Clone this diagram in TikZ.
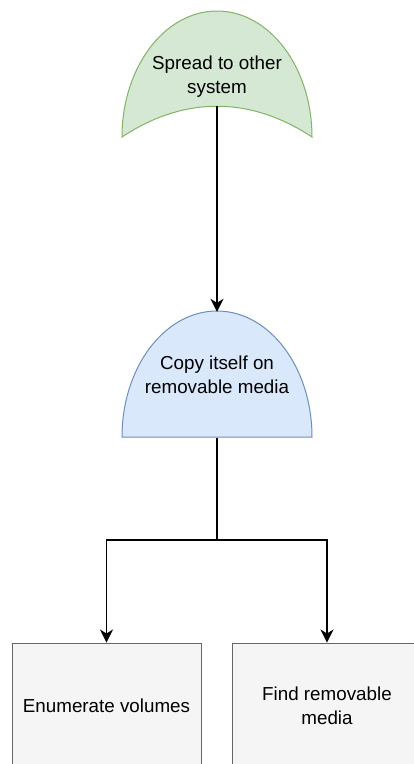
\documentclass[tikz,border=0pt]{standalone}
\usepackage{fontspec}
\setmainfont{Liberation Sans}
\usetikzlibrary{arrows.meta}
\definecolor{greenfill}{HTML}{D5E8D4}
\definecolor{greenline}{HTML}{82B366}
\definecolor{bluefill}{HTML}{DAE8FC}
\definecolor{blueline}{HTML}{6C8EBF}
\definecolor{greyfill}{HTML}{F5F5F5}
\definecolor{greyline}{HTML}{666666}
\begin{document}
\begin{tikzpicture}[x=1pt,y=-1pt,
  lbl/.style={font=\fontsize{18.8}{24.5}\selectfont, align=center, text=black},
  frame/.style={lbl, minimum width=190pt, minimum height=126pt, inner sep=0pt, draw=none},
  box/.style={lbl, minimum width=189pt, minimum height=126pt, inner sep=0pt,
    fill=greyfill, draw=greyline, line width=1pt},
  wire/.style={draw=black, line width=1.3pt},
  flow/.style={wire, -{Stealth[length=13pt,width=13pt,inset=4pt]}}]
\useasboundingbox (0,0) rectangle (414,764);
\clip (0,0) rectangle (414,764);

% dome with a hollowed base
\draw[fill=greenfill, draw=greenline, line width=1pt]
  (122,137) arc[start angle=180, end angle=360, x radius=95, y radius=126]
  .. controls (250,96) and (184,96) .. (122,137) -- cycle;
% dome with a flat base
\draw[fill=bluefill, draw=blueline, line width=1pt]
  (122,437) arc[start angle=180, end angle=360, x radius=95, y radius=126] -- cycle;

\node[frame] (spread) at (217,76.5) {Spread to other\\system};
\node[frame] (copy) at (217,375) {Copy itself on\\removable media};
\node[box] (enum) at (106.5,706) {Enumerate volumes};
\node[box] (find) at (327,706) {Find removable\\media};

\coordinate (spreadtip) at (217,106);
\coordinate (split) at (217,540);

\draw[flow] (spreadtip) -- (copy.north);
\draw[wire] (copy.south) -- (split);
\draw[flow] (split) -| (enum.north);
\draw[flow] (split) -| (find.north);
\end{tikzpicture}
\end{document}
